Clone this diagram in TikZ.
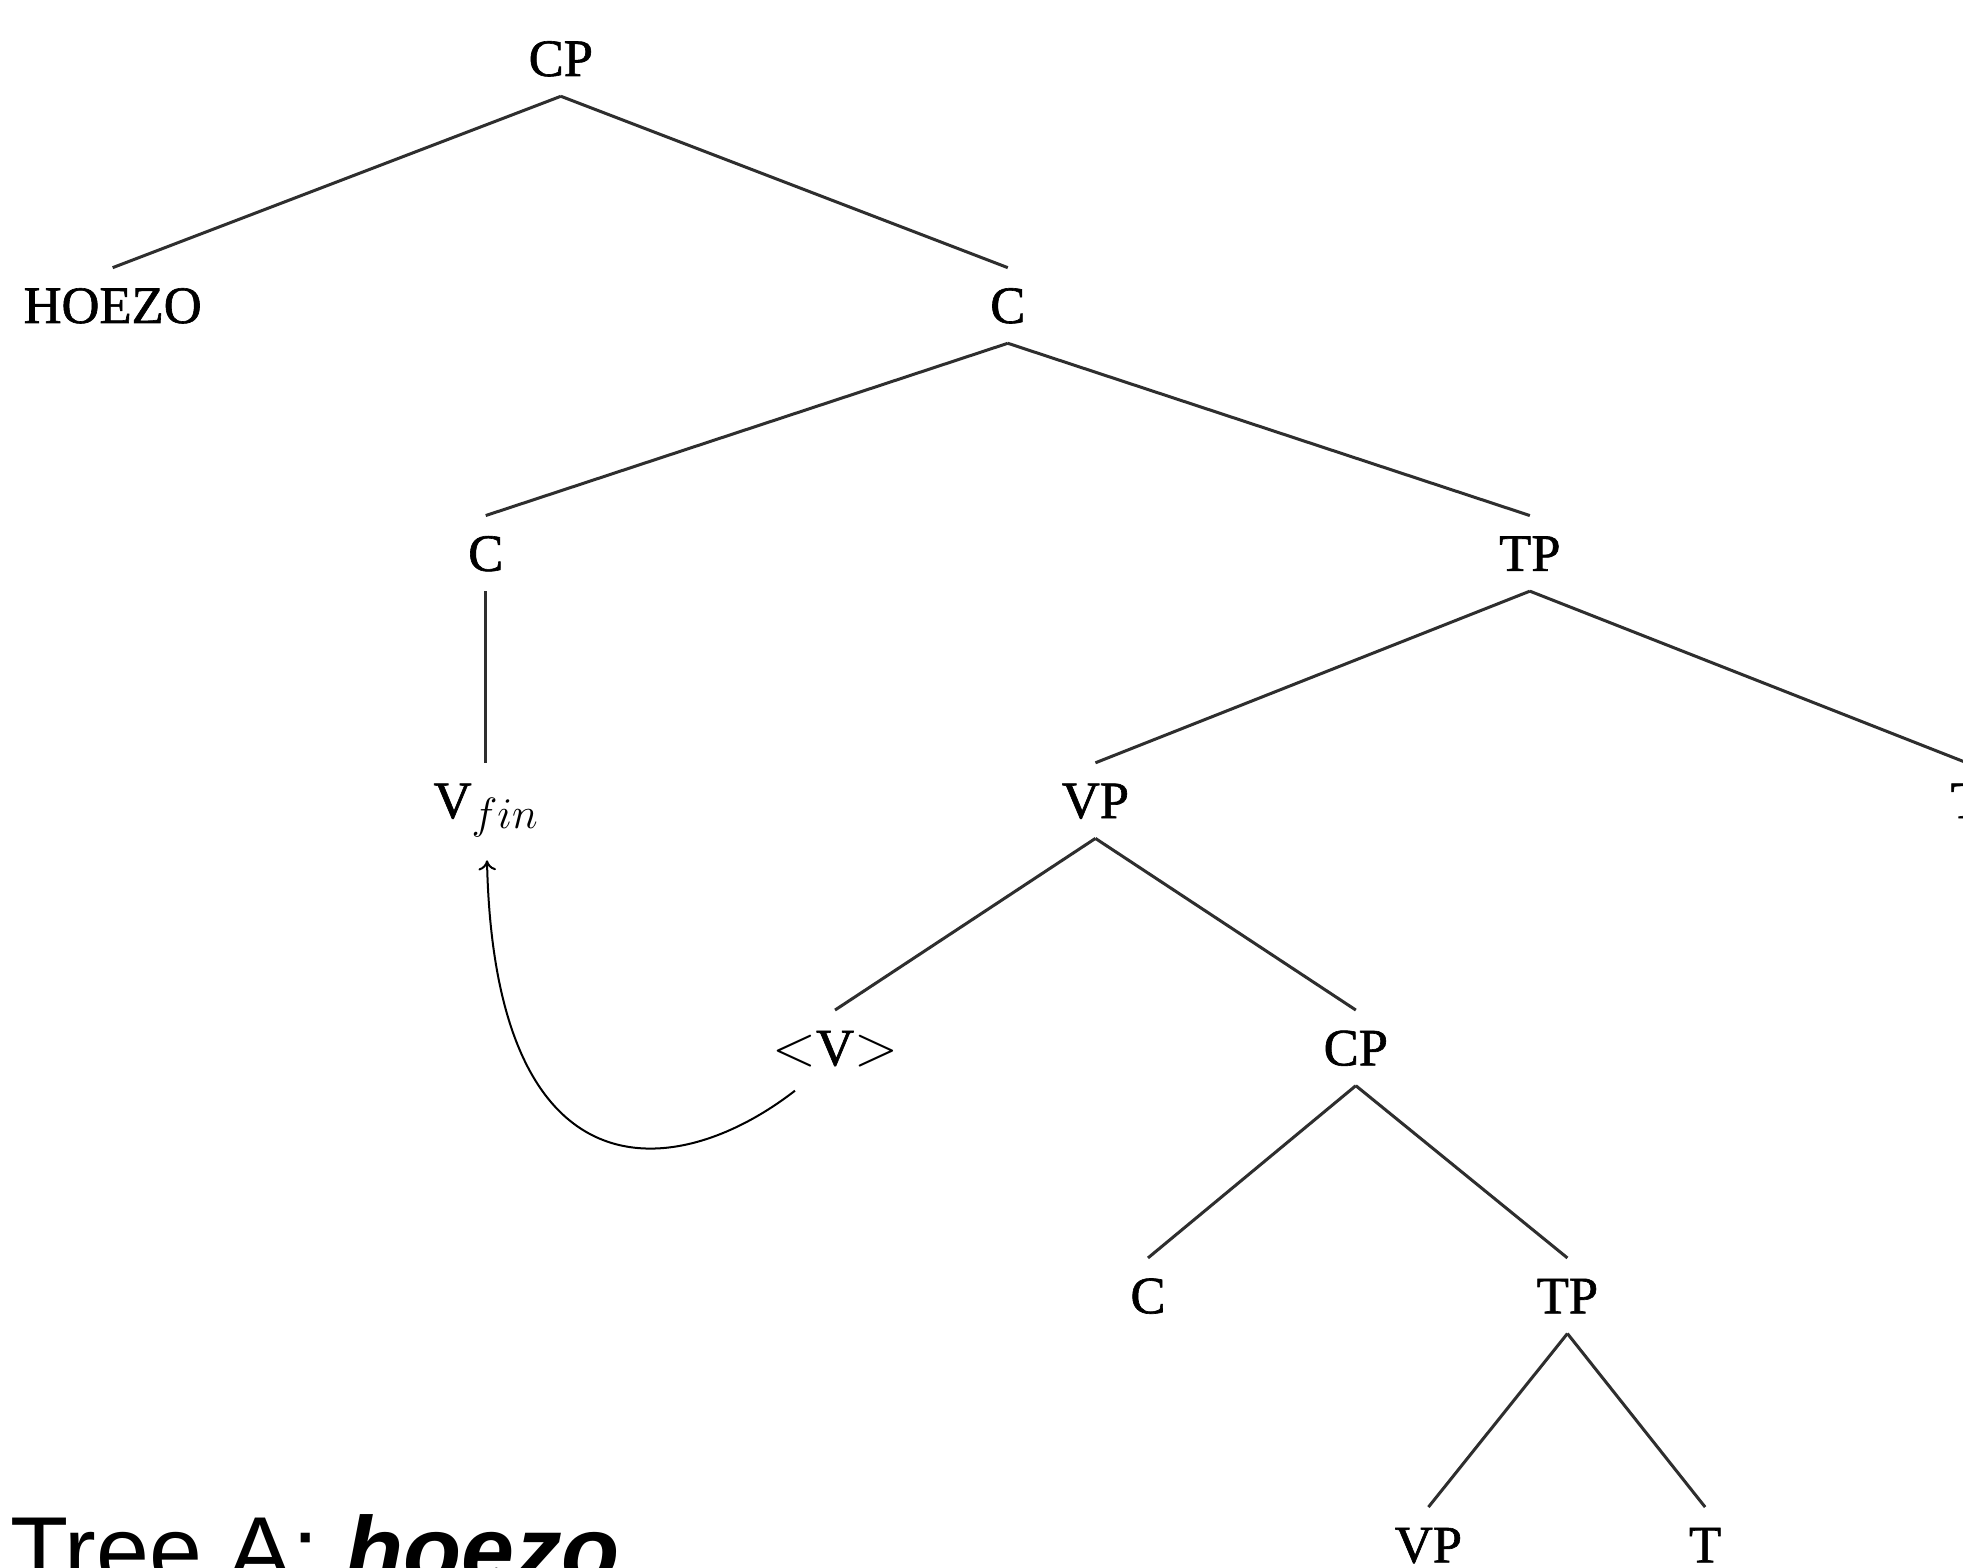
\RequirePackage{fix-cm}
\documentclass[tikz,border=0pt]{standalone}
\usepackage{fontspec}
\setmainfont{Liberation Serif}
\newfontfamily\lblfont{Liberation Serif}[FakeBold=1.2]
\newfontfamily\capfont{Liberation Sans}
\usetikzlibrary{arrows.meta}
\begin{document}
\begin{tikzpicture}[x=1pt,y=1pt,
  lbl/.style={anchor=base,inner xsep=0pt,inner ysep=16pt,text height=28pt,text depth=0pt,font=\lblfont\fontsize{42}{50}\selectfont},
  br/.style={draw=black!82,line width=2.4pt},
  mv/.style={draw=black,line width=1.6pt,-{To[length=8pt,width=14pt]}}]
\useasboundingbox (0,0) rectangle (1568,-1252);
\clip (0,0) rectangle (1568,-1252);
\fill[white] (0,0) rectangle (1568,-1252);
% nodes
\node[lbl] (cp1) at (448,-60.7) {CP};
\node[lbl] (hoezo) at (90,-258) {HOEZO};
\node[lbl] (cbar) at (805,-258) {C};
\node[lbl] (c1) at (388,-456) {C};
\node[lbl] (tp1) at (1222,-456) {TP};
\node[lbl] (vfin) at (388,-653.5) {V\raisebox{-8.5pt}{\fontsize{35}{40}\selectfont$fin$}};
\node[lbl] (vp1) at (875,-653.5) {VP};
\node[lbl] (t1) at (1571,-653.5) {T};
\node[lbl] (vtr) at (667,-851) {{\fontsize{46}{50}\selectfont$<$}V{\fontsize{46}{50}\selectfont$>$}};
\node[lbl] (cp2) at (1083,-851) {CP};
\node[lbl] (c2) at (917,-1049) {C};
\node[lbl] (tp2) at (1252,-1049) {TP};
\node[lbl] (vp2) at (1141,-1248) {VP};
\node[lbl] (t2) at (1362,-1248) {T};
% branches
\draw[br] (cp1.south) -- (hoezo.north);
\draw[br] (cp1.south) -- (cbar.north);
\draw[br] (cbar.south) -- (c1.north);
\draw[br] (cbar.south) -- (tp1.north);
\draw[br] (c1.south) -- (vfin.north);
\draw[br] (tp1.south) -- (vp1.north);
\draw[br] (tp1.south) -- (t1.north);
\draw[br] (vp1.south) -- (vtr.north);
\draw[br] (vp1.south) -- (cp2.north);
\draw[br] (cp2.south) -- (c2.north);
\draw[br] (cp2.south) -- (tp2.north);
\draw[br] (tp2.south) -- (vp2.north);
\draw[br] (tp2.south) -- (t2.north);
% movement arrow
\draw[mv] ([xshift=-32pt,yshift=-4pt]vtr.south) .. controls (540,-945) and (395,-960) .. ([xshift=1pt,yshift=-17.5pt]vfin.south);
% caption
\node[anchor=base west,inner sep=0pt,font=\capfont\fontsize{76}{90}\selectfont] (caption) at (8,-1265) {Tree A: \textbf{\textit{hoezo}}};
\end{tikzpicture}
\end{document}
